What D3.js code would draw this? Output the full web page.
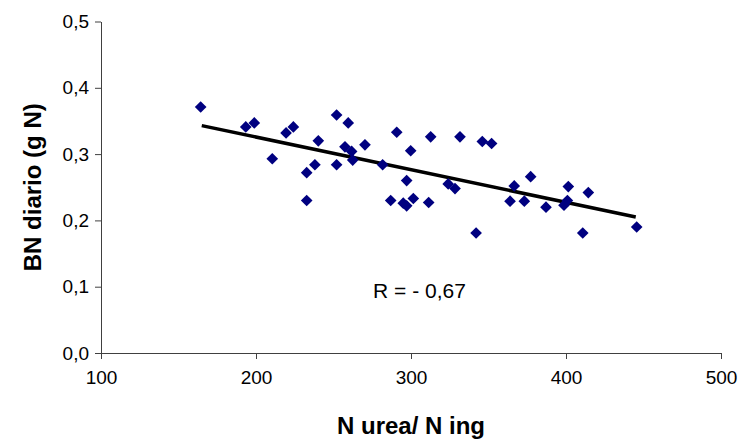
<!DOCTYPE html>
<html>
<head>
<meta charset="utf-8">
<script src="https://cdn.jsdelivr.net/npm/d3@7/dist/d3.min.js"></script>
<style>
  html, body { margin: 0; padding: 0; background: #fff; }
  svg { display: block; }
  text { font-family: Arial, "Liberation Sans", sans-serif; }
</style>
</head>
<body>
<svg id="chart" width="742" height="443"></svg>
<script>
// ---- data ----
const xValues = [164.3, 193.4, 198.9, 210.5, 219.4, 224.1, 240.2, 238.0, 232.7, 232.7,
  252.0, 252.0, 257.4, 259.5, 261.7, 262.4, 270.3, 281.7, 286.9, 290.8,
  295.0, 297.2, 297.2, 299.8, 301.5, 311.4, 312.7, 324.0, 328.4, 331.6,
  342.0, 346.0, 352.0, 363.9, 366.6, 373.1, 377.2, 387.1, 398.7, 400.9,
  401.5, 410.8, 414.4, 445.6];
const yValues = [0.371, 0.341, 0.347, 0.293, 0.332, 0.341, 0.320, 0.284, 0.272, 0.230,
  0.359, 0.284, 0.311, 0.347, 0.304, 0.291, 0.314, 0.284, 0.230, 0.333,
  0.226, 0.260, 0.222, 0.305, 0.233, 0.227, 0.326, 0.255, 0.248, 0.326,
  0.181, 0.319, 0.316, 0.229, 0.252, 0.229, 0.266, 0.220, 0.223, 0.230,
  0.251, 0.181, 0.242, 0.190];
const trendX = [165, 445];
const trendY = [0.343, 0.205];
const xTicks = [100, 200, 300, 400, 500];
const yTicks = [0, 0.1, 0.2, 0.3, 0.4, 0.5];
const xTitle = "N urea/ N ing";
const yTitle = "BN diario (g N)";
const rLabel = "R = - 0,67";
const rLabelPos = [305.5, 0.095];

// ---- chart ----
const svg = d3.select("#chart");
const x = d3.scaleLinear().domain([100, 500]).range([101, 721]);
const y = d3.scaleLinear().domain([0, 0.5]).range([353, 21.5]);
const axisColor = "#404040";
const fmtY = d => d3.format(".1f")(d).replace(".", ",");

const gx = svg.append("g").attr("transform", `translate(0,${y(0)})`)
  .call(d3.axisBottom(x).tickValues(xTicks).tickSizeInner(6).tickSizeOuter(0).tickPadding(12));
const gy = svg.append("g").attr("transform", `translate(${x(100)},0)`)
  .call(d3.axisLeft(y).tickValues(yTicks).tickFormat(fmtY).tickSizeInner(6).tickSizeOuter(0).tickPadding(6));
[gx, gy].forEach(g => {
  g.select(".domain").attr("stroke", axisColor).attr("stroke-width", 1);
  g.selectAll(".tick line").attr("stroke", axisColor);
  g.selectAll(".tick text").attr("fill", "#000").style("font-size", "19px")
    .style("font-family", "Arial, 'Liberation Sans', sans-serif");
});

// trend line
svg.append("line")
  .attr("x1", x(trendX[0])).attr("y1", y(trendY[0]))
  .attr("x2", x(trendX[1])).attr("y2", y(trendY[1]))
  .attr("stroke", "#000").attr("stroke-width", 3.5);

// points
const sym = d3.symbol().type(d3.symbolSquare).size(68);
svg.append("g").selectAll("path")
  .data(xValues.map((v, i) => [v, yValues[i]]))
  .join("path")
  .attr("d", sym)
  .attr("transform", d => `translate(${x(d[0])},${y(d[1])}) rotate(45)`)
  .attr("fill", "#000080");

// R label
svg.append("text")
  .attr("x", x(rLabelPos[0])).attr("y", y(rLabelPos[1]))
  .attr("text-anchor", "middle").attr("dominant-baseline", "central")
  .style("font-size", "21px").text(rLabel);

// axis titles
svg.append("text")
  .attr("x", (x(100) + x(500)) / 2).attr("y", 434)
  .attr("text-anchor", "middle")
  .style("font-size", "24px").style("font-weight", "bold").text(xTitle);
svg.append("text")
  .attr("transform", `translate(32,${(y(0) + y(0.5)) / 2}) rotate(-90)`)
  .attr("text-anchor", "middle").attr("dominant-baseline", "central")
  .style("font-size", "24px").style("font-weight", "bold").text(yTitle);
</script>
</body>
</html>
